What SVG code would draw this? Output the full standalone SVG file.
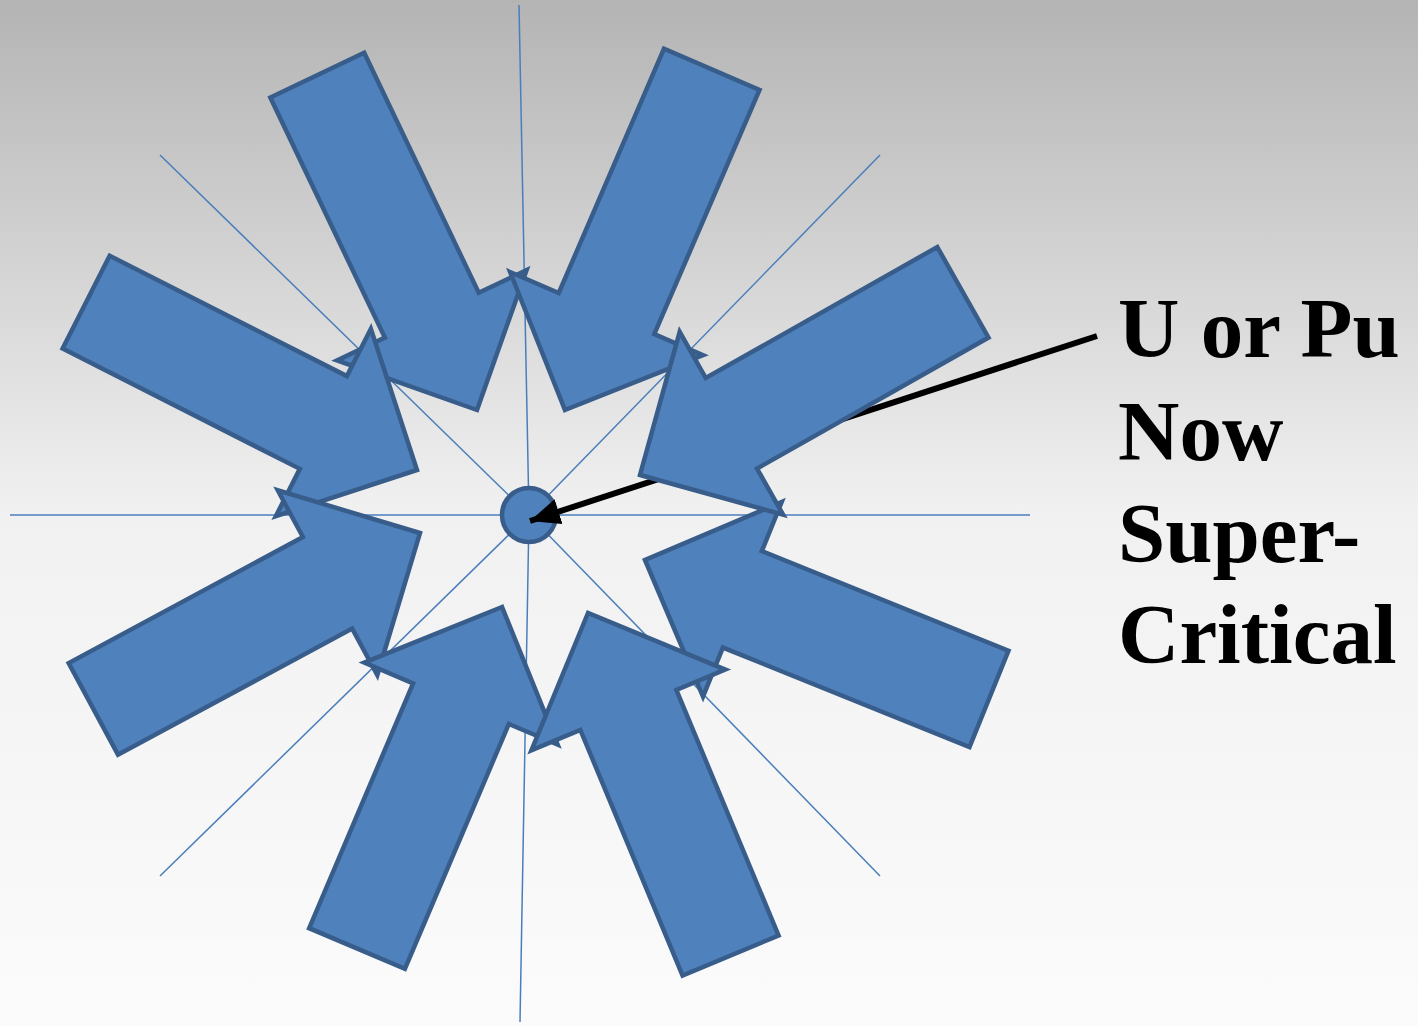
<svg xmlns="http://www.w3.org/2000/svg" width="1418" height="1026" viewBox="0 0 1418 1026">
<style>
.ray{stroke:#4a7ebb;stroke-width:1.5;fill:none}
.blk{fill:#4f81bd;stroke:#385d8a;stroke-width:4.5;stroke-linejoin:miter}
.lbl{font-family:"Liberation Serif","Times New Roman",serif;font-weight:bold;font-size:85px;fill:#000}
</style>
<defs>
<linearGradient id="bg" x1="0" y1="0" x2="0" y2="1">
<stop offset="0" stop-color="#b4b4b4"/>
<stop offset="0.5" stop-color="#f1f1f1"/>
<stop offset="1" stop-color="#fbfbfb"/>
</linearGradient>
<marker id="ah" markerUnits="userSpaceOnUse" markerWidth="32" markerHeight="28" refX="30" refY="13" orient="auto">
<path d="M0,0 L30,13 L0,26 z" fill="#000"/>
</marker>
<polygon id="arr" points="0,0 -105,-105 -105,-52 -371,-52 -371,52 -105,52 -105,105"/>
</defs>
<rect x="0" y="0" width="1418" height="1026" fill="url(#bg)"/>
<g id="rays">
<line class="ray" x1="529" y1="515" x2="519" y2="5"/>
<line class="ray" x1="529" y1="515" x2="520" y2="1022"/>
<line class="ray" x1="10" y1="515" x2="1030" y2="515"/>
<line class="ray" x1="529" y1="515" x2="160" y2="155"/>
<line class="ray" x1="529" y1="515" x2="880" y2="155"/>
<line class="ray" x1="529" y1="515" x2="160" y2="876"/>
<line class="ray" x1="529" y1="515" x2="880" y2="876"/>
</g>
<g id="core">
<circle class="blk" cx="529" cy="515" r="27" stroke-width="5"/>
</g>
<g id="connectors">
<line x1="1097" y1="336" x2="530" y2="521" stroke="#000" stroke-width="6" marker-end="url(#ah)"/>
</g>
<g id="arrow1"><use href="#arr" class="blk" transform="translate(477,410) rotate(64.5)"/></g>
<g id="arrow8"><use href="#arr" class="blk" transform="translate(565,410) rotate(113.3)"/></g>
<g id="arrow2"><use href="#arr" class="blk" transform="translate(417,470) rotate(26.9)"/></g>
<g id="arrow3"><use href="#arr" class="blk" transform="translate(420,533) rotate(-28.3)"/></g>
<g id="arrow4"><use href="#arr" class="blk" transform="translate(502,607) rotate(-67)"/></g>
<g id="arrow6"><use href="#arr" class="blk" transform="translate(645,560) rotate(-158)"/></g>
<g id="arrow7"><use href="#arr" class="blk" transform="translate(640,475) rotate(150.5)"/></g>
<g id="arrow5"><use href="#arr" class="blk" transform="translate(588,613) rotate(-112.6)"/></g>
<g id="label">
<text class="lbl" x="1118" y="357">U or Pu</text>
<text class="lbl" x="1118" y="460">Now</text>
<text class="lbl" x="1118" y="562">Super-</text>
<text class="lbl" x="1118" y="663">Critical</text>
</g>
</svg>
